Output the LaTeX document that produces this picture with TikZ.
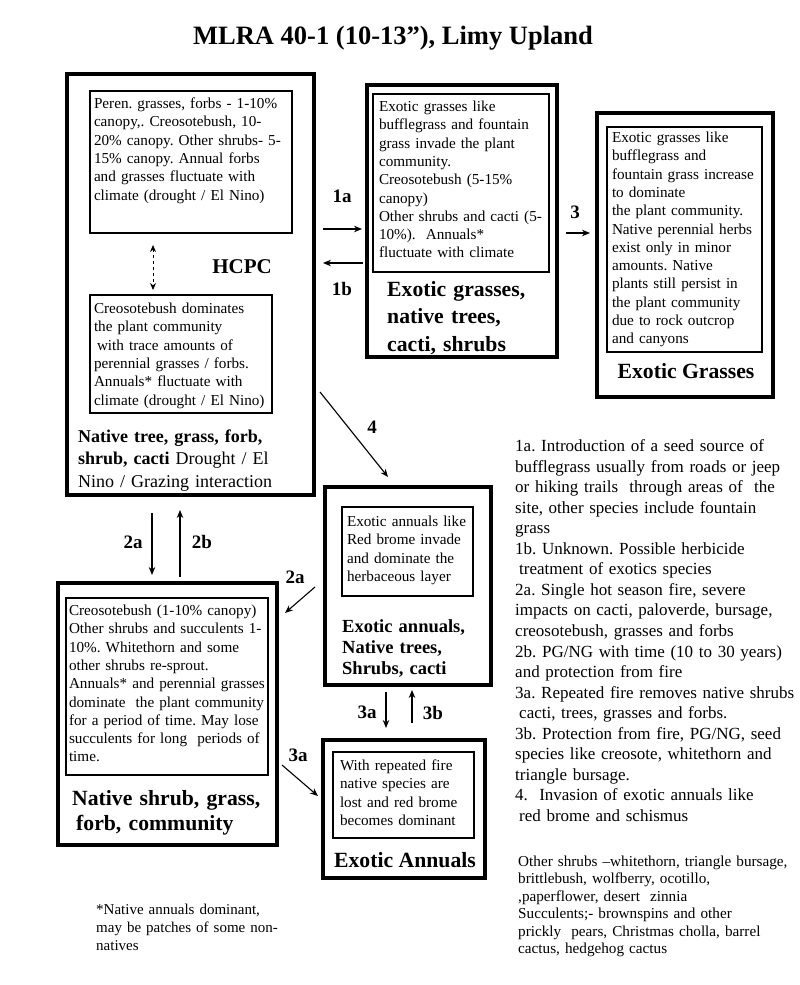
\documentclass[tikz,border=0pt]{standalone}
\usepackage{fontspec}
\setmainfont{Liberation Serif}
\frenchspacing
\usepackage{tikz}
\usetikzlibrary{arrows.meta,positioning}
\tikzset{
    outbox/.style={draw, line width=3.2pt, anchor=north west, inner sep=0pt, outer sep=0pt},
    inbox/.style={draw, line width=1.1pt, anchor=north west, outer sep=0pt, inner ysep=4pt, align=left, font=\fontsize{15.2}{18.3}\selectfont},
    hd/.style={anchor=base west, inner sep=0pt, align=left, font=\fontsize{21.7}{27.5}\selectfont\bfseries},
    lbl/.style={inner sep=0pt, font=\fontsize{19}{22}\selectfont\bfseries},
    note/.style={anchor=base west, inner sep=0pt, align=left},
    link/.style={-{Stealth[length=8pt, width=6.5pt]}, line width=1.1pt}}

\begin{document}
\begin{tikzpicture}[x=1pt,y=-1pt]
    \useasboundingbox (0,0) rectangle (800,985);
    \node[anchor=base, inner sep=0pt, font=\fontsize{26.5}{30}\selectfont\bfseries] (title) at (393,44) {MLRA 40-1 (10-13”), Limy Upland};

    % reference state
    \node[outbox, minimum width=247, minimum height=421] (hcpc) at (67,74) {};
    \node[inbox, inner xsep=4pt, text width=194pt, text height=13.5pt, text depth=120.5pt] (hcpcA) at (90,91)
    {Peren. grasses, forbs - 1-10\%\\ canopy,. Creosotebush, 10-\\ 20\% canopy. Other shrubs- 5-\\ 15\% canopy. Annual forbs\\ and grasses fluctuate with\\ climate (drought / El Nino)};
    \node[inbox, inner xsep=4pt, text width=174pt, text height=14.5pt, text depth=95.5pt] (hcpcB) at (90,295)
    {Creosotebush dominates\\ the plant community\\ \hspace*{3pt}with trace amounts of\\ perennial grasses / forbs.\\ Annuals* fluctuate with\\ climate (drought / El Nino)};
    \node[inner sep=0pt, font=\fontsize{21}{24}\selectfont\bfseries] (hcpcname) at (242,267) {HCPC};
    \node[note, text width=235pt, font=\fontsize{18}{22.5}\selectfont] (hcpcttl) at (78,442)
    {\textbf{Native tree, grass, forb,}\\ \textbf{shrub, cacti} Drought / El\\ Nino / Grazing interaction};
    \coordinate (dA) at (153,245); \coordinate (dB) at (153,290);
    \draw[link, {Stealth[length=7pt, width=6pt]}-{Stealth[length=7pt, width=6pt]}, dashed, line width=1pt] (dA) -- (dB);

    % exotic grasses invading
    \node[outbox, minimum width=190, minimum height=272] (exg) at (367,85) {};
    \node[inbox, inner xsep=6pt, text width=164pt, text height=13.5pt, text depth=156.5pt] (exgi) at (373,94)
    {Exotic grasses like\\ bufflegrass and fountain\\ grass invade the plant\\ community.\\ Creosotebush (5-15\%\\ canopy)\\ Other shrubs and cacti (5-\\ 10\%).\ \ Annuals*\\ fluctuate with climate};
    \node[hd, text width=165pt] (exgttl) at (387,296) {Exotic grasses,\\ native trees,\\ cacti, shrubs};

    % exotic grasses
    \node[outbox, minimum width=176, minimum height=284] (exgr) at (597,113) {};
    \node[inbox, inner xsep=5pt, text width=145pt, text height=11.5pt, text depth=205.5pt] (exgri) at (607,127)
    {Exotic grasses like\\ bufflegrass and\\ fountain grass increase\\ to dominate\\ the plant community.\\ Native perennial herbs\\ exist only in minor\\ amounts. Native\\ plants still persist in\\ the plant community\\ due to rock outcrop\\ and canyons};
    \node[hd, anchor=base] (exgrttl) at (686,378) {Exotic Grasses};

    % exotic annuals invading
    \node[outbox, minimum width=166, minimum height=198] (exa) at (325,487) {};
    \node[inbox, inner xsep=5pt, text width=121pt, text height=15.5pt, text depth=65.5pt] (exai) at (342,507)
    {Exotic annuals like\\ Red brome invade\\ and dominate the\\ herbaceous layer};
    \node[hd, text width=145pt, font=\fontsize{18.5}{21}\selectfont\bfseries] (exattl) at (342,632) {Exotic annuals,\\ Native trees,\\ Shrubs, cacti};

    % native shrub community
    \node[outbox, minimum width=219, minimum height=262] (nsg) at (58,583) {};
    \node[inbox, inner xsep=3pt, text width=196pt, text height=13.5pt, text depth=155.5pt] (nsgi) at (66,598)
    {Creosotebush (1-10\% canopy)\\ Other shrubs and succulents 1-\\ 10\%. Whitethorn and some\\ other shrubs re-sprout.\\ Annuals* and perennial grasses\\ dominate\ \ the plant community\\ for a period of time. May lose\\ succulents for long\ \ periods of\\ time.};
    \node[hd, text width=205pt, font=\fontsize{21.7}{25}\selectfont\bfseries] (nsgttl) at (72,805) {Native shrub, grass,\\ \hspace*{4pt}forb, community};

    % exotic annuals
    \node[outbox, minimum width=162, minimum height=138] (exan) at (323,740) {};
    \node[inbox, inner xsep=7pt, text width=127pt, text height=14.5pt, text depth=63.5pt] (exani) at (333,752)
    {With repeated fire\\ native species are\\ lost and red brome\\ becomes dominant};
    \node[hd, anchor=base] (exanttl) at (405,867) {Exotic Annuals};

    % transitions
    \coordinate (e1a) at (323,229); \coordinate (f1a) at (362,229);
    \coordinate (e1b) at (363,263); \coordinate (f1b) at (323,263);
    \coordinate (e3) at (566,233); \coordinate (f3) at (590,233);
    \coordinate (e4) at (320,392); \coordinate (f4) at (388,477);
    \coordinate (e2a) at (152,513); \coordinate (f2a) at (152,575);
    \coordinate (e2b) at (180,577); \coordinate (f2b) at (180,510);
    \coordinate (e2c) at (315,587); \coordinate (f2c) at (285,613);
    \coordinate (e3c) at (282,765); \coordinate (f3c) at (318,796);
    \coordinate (e3a) at (386,692); \coordinate (f3a) at (386,728);
    \coordinate (e3b) at (412,723); \coordinate (f3b) at (412,690);
    \path[link]
    (e1a) edge (f1a)
    (e1b) edge (f1b)
    (e3) edge (f3)
    (e4) edge (f4)
    (e2a) edge (f2a)
    (e2b) edge (f2b)
    (e2c) edge (f2c)
    (e3c) edge (f3c)
    (e3a) edge (f3a)
    (e3b) edge (f3b);
    \node[lbl] (l1a) at (342,196) {1a};
    \node[lbl] (l1b) at (342,289) {1b};
    \node[lbl] (l3) at (575,212) {3};
    \node[lbl] (l4) at (372,427) {4};
    \node[lbl] (l2a) at (133,542) {2a};
    \node[lbl] (l2b) at (202,542) {2b};
    \node[lbl] (l2c) at (295,577) {2a};
    \node[lbl] (l3c) at (298,755) {3a};
    \node[lbl] (l3a) at (367,712) {3a};
    \node[lbl] (l3b) at (433,713) {3b};

    % notes
    \node[note, text width=285pt, font=\fontsize{17}{20.55}\selectfont] (key) at (515,451.5)
    {1a. Introduction of a seed source of\\ bufflegrass usually from roads or jeep\\ or hiking trails\ \ through areas of\ \ the\\ site, other species include fountain\\ grass\\
    1b. Unknown. Possible herbicide\\ \hspace*{4pt}treatment of exotics species\\
    2a. Single hot season fire, severe\\ impacts on cacti, paloverde, bursage,\\ creosotebush, grasses and forbs\\
    2b. PG/NG with time (10 to 30 years)\\ and protection from fire\\
    3a. Repeated fire removes native shrubs\\ \hspace*{4pt}cacti, trees, grasses and forbs.\\
    3b. Protection from fire, PG/NG, seed\\ species like creosote, whitethorn and\\ triangle bursage.\\
    4.\ \ Invasion of exotic annuals like\\ \hspace*{4pt}red brome and schismus};
    \node[note, text width=282pt, font=\fontsize{15.2}{17.5}\selectfont] (others) at (518,866)
    {Other shrubs –whitethorn, triangle bursage,\\ brittlebush, wolfberry, ocotillo,\\ ,paperflower, desert\ \ zinnia\\ Succulents;- brownspins and other\\ prickly\ \ pears, Christmas cholla, barrel\\ cactus, hedgehog cactus};
    \node[note, text width=200pt, font=\fontsize{15}{18}\selectfont] (foot) at (96,914)
    {*Native annuals dominant,\\ may be patches of some non-\\ natives};
\end{tikzpicture}
\end{document}
